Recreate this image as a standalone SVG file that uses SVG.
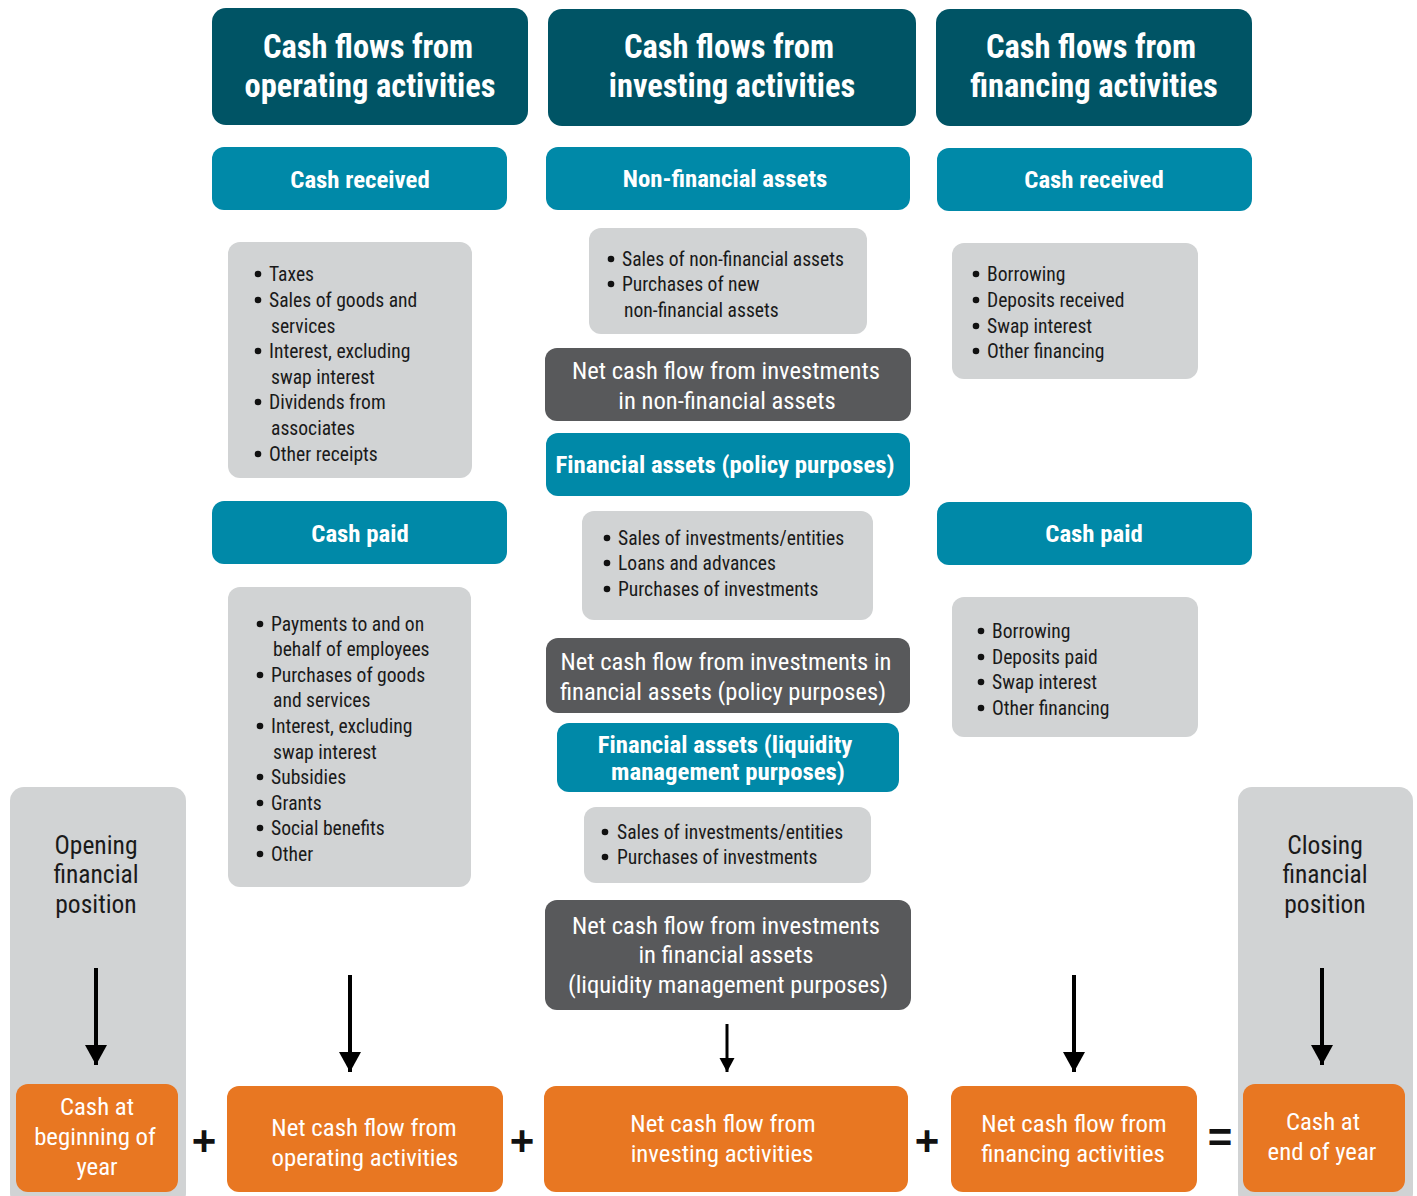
<svg xmlns="http://www.w3.org/2000/svg" width="1417" height="1196" viewBox="0 0 1417 1196">
<defs>
<style>
text{font-family:"Liberation Sans Narrow","Roboto Condensed","DejaVu Sans Condensed","Liberation Sans",sans-serif;font-stretch:condensed}
.hdr{fill:#005465}
.sub{fill:#0089A8}
.lst{fill:#D1D3D4}
.net{fill:#58595B}
.org{fill:#E87722}
.bu{fill:#111}
.th{fill:#fff;font-weight:bold;font-size:32.5px;text-anchor:middle}
.ts{fill:#fff;font-weight:bold;font-size:24.8px;text-anchor:middle}
.tl{fill:#1a1a1a;font-size:19.6px}
.tn{fill:#fff;font-size:24.6px;text-anchor:middle}
.to{fill:#fff;font-size:24.8px;text-anchor:middle}
.tg{fill:#1a1a1a;font-size:25.5px;text-anchor:middle}
.op{fill:#111;font-size:42px;font-weight:bold;text-anchor:middle;font-family:"Liberation Sans",sans-serif}
.arr{stroke:#000;stroke-width:4;fill:none}
.arr2{stroke:#000;stroke-width:3;fill:none}
</style>
<marker id="ah" markerUnits="userSpaceOnUse" markerWidth="24" markerHeight="22" refX="20" refY="11" orient="auto"><path d="M0,0 L20,11 L0,22 Z" fill="#000"/></marker>
<marker id="ah2" markerUnits="userSpaceOnUse" markerWidth="16" markerHeight="16" refX="14" refY="7.5" orient="auto"><path d="M0,0 L14,7.5 L0,15 Z" fill="#000"/></marker>
</defs>
<rect width="1417" height="1196" fill="#fff"/>

<g id="col-left"><rect class="lst" x="10" y="787" width="176" height="420" rx="14"/><text class="tg" x="96" y="854">Opening</text><text class="tg" x="96" y="883">financial</text><text class="tg" x="96" y="913">position</text></g>
<g id="col-right"><rect class="lst" x="1238" y="787" width="175" height="420" rx="14"/><text class="tg" x="1325" y="854">Closing</text><text class="tg" x="1325" y="883">financial</text><text class="tg" x="1325" y="913">position</text></g>

<g id="hdr-op"><rect class="hdr" x="212" y="8" width="316" height="117" rx="14"/><text class="th" x="368" y="58">Cash flows from</text><text class="th" x="370" y="97">operating activities</text></g>
<g id="hdr-inv"><rect class="hdr" x="548" y="9" width="368" height="117" rx="14"/><text class="th" x="729" y="58">Cash flows from</text><text class="th" x="732" y="97">investing activities</text></g>
<g id="hdr-fin"><rect class="hdr" x="936" y="9" width="316" height="117" rx="14"/><text class="th" x="1091" y="58">Cash flows from</text><text class="th" x="1094" y="97">financing activities</text></g>

<g id="op-received"><rect class="sub" x="212" y="147" width="295" height="63" rx="12"/><text class="ts" x="360" y="188">Cash received</text></g>
<g id="op-received-list"><rect class="lst" x="228" y="242" width="244" height="236" rx="12"/>
<g class="bu"><circle cx="258" cy="274" r="3.3"/><circle cx="258" cy="300" r="3.3"/><circle cx="258" cy="351" r="3.3"/><circle cx="258" cy="402" r="3.3"/><circle cx="258" cy="454" r="3.3"/></g>
<text class="tl"><tspan x="269" y="281">Taxes</tspan><tspan x="269" y="307">Sales of goods and</tspan><tspan x="271" y="333">services</tspan><tspan x="269" y="358">Interest, excluding</tspan><tspan x="271" y="384">swap interest</tspan><tspan x="269" y="409">Dividends from</tspan><tspan x="271" y="435">associates</tspan><tspan x="269" y="461">Other receipts</tspan></text></g>
<g id="op-paid"><rect class="sub" x="212" y="501" width="295" height="63" rx="12"/><text class="ts" x="360" y="542">Cash paid</text></g>
<g id="op-paid-list"><rect class="lst" x="228" y="587" width="243" height="300" rx="12"/>
<g class="bu"><circle cx="260" cy="624" r="3.3"/><circle cx="260" cy="675" r="3.3"/><circle cx="260" cy="726" r="3.3"/><circle cx="260" cy="777" r="3.3"/><circle cx="260" cy="803" r="3.3"/><circle cx="260" cy="828" r="3.3"/><circle cx="260" cy="854" r="3.3"/></g>
<text class="tl"><tspan x="271" y="631">Payments to and on</tspan><tspan x="273" y="656">behalf of employees</tspan><tspan x="271" y="682">Purchases of goods</tspan><tspan x="273" y="707">and services</tspan><tspan x="271" y="733">Interest, excluding</tspan><tspan x="273" y="759">swap interest</tspan><tspan x="271" y="784">Subsidies</tspan><tspan x="271" y="810">Grants</tspan><tspan x="271" y="835">Social benefits</tspan><tspan x="271" y="861">Other</tspan></text></g>

<g id="inv-nonfin"><rect class="sub" x="546" y="147" width="364" height="63" rx="12"/><text class="ts" x="725" y="187">Non-financial assets</text></g>
<g id="inv-nonfin-list"><rect class="lst" x="589" y="228" width="278" height="106" rx="12"/>
<g class="bu"><circle cx="611" cy="259" r="3.3"/><circle cx="611" cy="284" r="3.3"/></g>
<text class="tl"><tspan x="622" y="266">Sales of non-financial assets</tspan><tspan x="622" y="291">Purchases of new</tspan><tspan x="624" y="317">non-financial assets</tspan></text></g>
<g id="inv-nonfin-net"><rect class="net" x="545" y="348" width="366" height="73" rx="12"/><text class="tn" x="726" y="379">Net cash flow from investments</text><text class="tn" x="727" y="409">in non-financial assets</text></g>
<g id="inv-policy"><rect class="sub" x="546" y="433" width="364" height="63" rx="12"/><text class="ts" x="725" y="473">Financial assets (policy purposes)</text></g>
<g id="inv-policy-list"><rect class="lst" x="582" y="511" width="291" height="109" rx="12"/>
<g class="bu"><circle cx="607" cy="538" r="3.3"/><circle cx="607" cy="563" r="3.3"/><circle cx="607" cy="589" r="3.3"/></g>
<text class="tl"><tspan x="618" y="545">Sales of investments/entities</tspan><tspan x="618" y="570">Loans and advances</tspan><tspan x="618" y="596">Purchases of investments</tspan></text></g>
<g id="inv-policy-net"><rect class="net" x="546" y="638" width="364" height="75" rx="12"/><text class="tn" x="726" y="670">Net cash flow from investments in</text><text class="tn" x="723" y="700">financial assets (policy purposes)</text></g>
<g id="inv-liq"><rect class="sub" x="557" y="723" width="342" height="69" rx="12"/><text class="ts" x="725" y="753">Financial assets (liquidity</text><text class="ts" x="728" y="780">management purposes)</text></g>
<g id="inv-liq-list"><rect class="lst" x="584" y="807" width="287" height="76" rx="12"/>
<g class="bu"><circle cx="605" cy="832" r="3.3"/><circle cx="605" cy="857" r="3.3"/></g>
<text class="tl"><tspan x="617" y="839">Sales of investments/entities</tspan><tspan x="617" y="864">Purchases of investments</tspan></text></g>
<g id="inv-liq-net"><rect class="net" x="545" y="900" width="366" height="110" rx="12"/><text class="tn" x="726" y="934">Net cash flow from investments</text><text class="tn" x="726" y="963">in financial assets</text><text class="tn" x="728" y="993">(liquidity management purposes)</text></g>

<g id="fin-received"><rect class="sub" x="937" y="148" width="315" height="63" rx="12"/><text class="ts" x="1094" y="188">Cash received</text></g>
<g id="fin-received-list"><rect class="lst" x="952" y="243" width="246" height="136" rx="12"/>
<g class="bu"><circle cx="976" cy="274" r="3.3"/><circle cx="976" cy="300" r="3.3"/><circle cx="976" cy="326" r="3.3"/><circle cx="976" cy="351" r="3.3"/></g>
<text class="tl"><tspan x="987" y="281">Borrowing</tspan><tspan x="987" y="307">Deposits received</tspan><tspan x="987" y="333">Swap interest</tspan><tspan x="987" y="358">Other financing</tspan></text></g>
<g id="fin-paid"><rect class="sub" x="937" y="502" width="315" height="63" rx="12"/><text class="ts" x="1094" y="542">Cash paid</text></g>
<g id="fin-paid-list"><rect class="lst" x="952" y="597" width="246" height="140" rx="12"/>
<g class="bu"><circle cx="981" cy="631" r="3.3"/><circle cx="981" cy="657" r="3.3"/><circle cx="981" cy="682" r="3.3"/><circle cx="981" cy="708" r="3.3"/></g>
<text class="tl"><tspan x="992" y="638">Borrowing</tspan><tspan x="992" y="664">Deposits paid</tspan><tspan x="992" y="689">Swap interest</tspan><tspan x="992" y="715">Other financing</tspan></text></g>

<g id="cash-begin"><rect class="org" x="16" y="1084" width="162" height="108" rx="12"/><text class="to" x="97" y="1115">Cash at</text><text class="to" x="95" y="1145">beginning of</text><text class="to" x="97" y="1175">year</text></g>
<g id="net-op"><rect class="org" x="227" y="1086" width="276" height="106" rx="12"/><text class="to" x="364" y="1136">Net cash flow from</text><text class="to" x="365" y="1166">operating activities</text></g>
<g id="net-inv"><rect class="org" x="544" y="1086" width="364" height="106" rx="12"/><text class="to" x="723" y="1132">Net cash flow from</text><text class="to" x="722" y="1162">investing activities</text></g>
<g id="net-fin"><rect class="org" x="951" y="1086" width="246" height="106" rx="12"/><text class="to" x="1074" y="1132">Net cash flow from</text><text class="to" x="1073" y="1162">financing activities</text></g>
<g id="cash-end"><rect class="org" x="1243" y="1084" width="162" height="108" rx="12"/><text class="to" x="1323" y="1130">Cash at</text><text class="to" x="1322" y="1160">end of year</text></g>

<g id="operators">
<text class="op" x="204" y="1155">+</text>
<text class="op" x="522" y="1155">+</text>
<text class="op" x="927" y="1155">+</text>
<text class="op" x="1220" y="1152">=</text>
</g>

<g id="connectors">
<line class="arr" x1="96" y1="968" x2="96" y2="1065" marker-end="url(#ah)"/>
<line class="arr" x1="350" y1="975" x2="350" y2="1072" marker-end="url(#ah)"/>
<line class="arr2" x1="727" y1="1024" x2="727" y2="1072" marker-end="url(#ah2)"/>
<line class="arr" x1="1074" y1="975" x2="1074" y2="1072" marker-end="url(#ah)"/>
<line class="arr" x1="1322" y1="968" x2="1322" y2="1065" marker-end="url(#ah)"/>
</g>
</svg>
